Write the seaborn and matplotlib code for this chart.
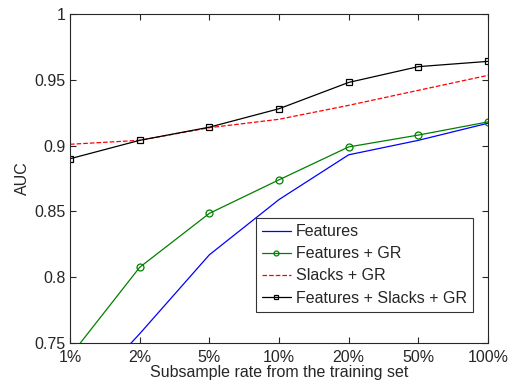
import pandas as pd
import matplotlib
matplotlib.use('Agg')
import matplotlib.pyplot as plt
import seaborn as sns

rates = ['1%', '2%', '5%', '10%', '20%', '50%', '100%']
features = [0.700, 0.757, 0.817, 0.859, 0.893, 0.904, 0.917]
features_gr = [0.740, 0.8075, 0.8485, 0.874, 0.899, 0.908, 0.918]
slacks_gr = [0.901, 0.904, 0.9136, 0.920, 0.9306, 0.942, 0.9534]
features_slacks_gr = [0.890, 0.904, 0.914, 0.928, 0.948, 0.960, 0.964]

series = {
    'Features': features,
    'Features + GR': features_gr,
    'Slacks + GR': slacks_gr,
    'Features + Slacks + GR': features_slacks_gr,
}
styles = {
    'Features': dict(color='#0000ff', linestyle='-', marker=None),
    'Features + GR': dict(color='#008000', linestyle='-', marker='o'),
    'Slacks + GR': dict(color='#ff0000', linestyle='--', marker=None),
    'Features + Slacks + GR': dict(color='#000000', linestyle='-', marker='s'),
}

rows = []
for name, vals in series.items():
    for i, v in enumerate(vals):
        rows.append({'pos': i, 'auc': v, 'method': name})
df = pd.DataFrame(rows)

sns.set_style('ticks')
plt.rcParams['font.family'] = ['Liberation Sans', 'DejaVu Sans']
plt.rcParams['xtick.direction'] = 'in'
plt.rcParams['ytick.direction'] = 'in'

fig, ax = plt.subplots(figsize=(5.16, 3.81), dpi=100)
fig.subplots_adjust(left=70 / 516, right=488 / 516, top=1 - 14 / 381, bottom=1 - 343 / 381)

for name in series:
    st = styles[name]
    sns.lineplot(data=df[df['method'] == name], x='pos', y='auc', ax=ax,
                 color=st['color'], linestyle=st['linestyle'], marker=st['marker'],
                 markersize=5, markerfacecolor='none', markeredgecolor=st['color'],
                 markeredgewidth=0.9, linewidth=0.9, label=name)

ax.set_xlim(0, len(rates) - 1)
ax.set_ylim(0.75, 1)
ax.set_xticks(range(len(rates)))
ax.set_xticklabels(rates)
ax.set_yticks([0.75, 0.8, 0.85, 0.9, 0.95, 1])
ax.set_yticklabels(['0.75', '0.8', '0.85', '0.9', '0.95', '1'])
ax.tick_params(top=True, right=True, labelsize=11.5, length=4, width=0.8)
ax.tick_params(axis='x', pad=5)
ax.tick_params(axis='y', pad=3)
for sp in ax.spines.values():
    sp.set_linewidth(0.8)
ax.set_xlabel('Subsample rate from the training set', fontsize=11.5, labelpad=0)
ax.set_ylabel('AUC', fontsize=11.5, labelpad=3)

leg = ax.legend(loc='lower right', bbox_to_anchor=(0.964, 0.094), borderaxespad=0,
                fontsize=11.5, frameon=True, fancybox=False, edgecolor='black',
                handlelength=1.8, handletextpad=0.3, labelspacing=0.45,
                borderpad=0.4, markerscale=0.7)
leg.get_frame().set_linewidth(0.8)

fig.savefig('out.png', dpi=100)
